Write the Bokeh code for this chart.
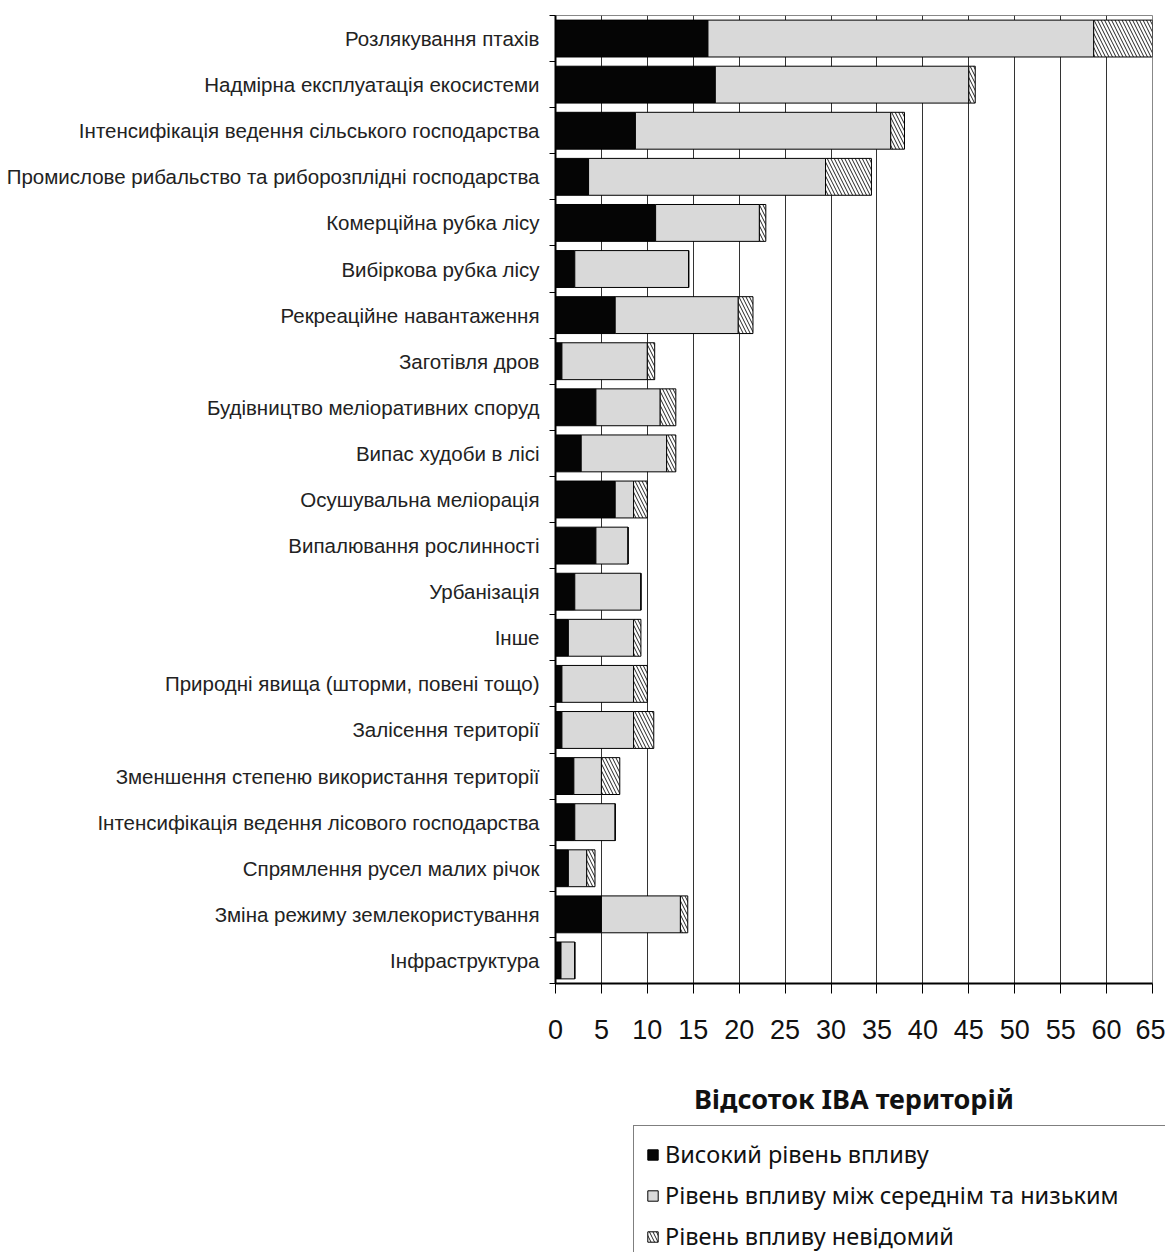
from bokeh.plotting import figure
from bokeh.layouts import column
from bokeh.models import (ColumnDataSource, Range1d, LinearAxis,
                          FixedTicker, Legend, LegendItem)
from bokeh.transform import stack
from bokeh.embed import file_html
from bokeh.resources import INLINE

categories = [
    "Розлякування птахів",
    "Надмірна експлуатація екосистеми",
    "Інтенсифікація ведення сільського господарства",
    "Промислове рибальство та риборозплідні господарства",
    "Комерційна рубка лісу",
    "Вибіркова рубка лісу",
    "Рекреаційне навантаження",
    "Заготівля дров",
    "Будівництво меліоративних споруд",
    "Випас худоби в лісі",
    "Осушувальна меліорація",
    "Випалювання рослинності",
    "Урбанізація",
    "Інше",
    "Природні явища (шторми, повені тощо)",
    "Залісення території",
    "Зменшення степеню використання території",
    "Інтенсифікація ведення лісового господарства",
    "Спрямлення русел малих річок",
    "Зміна режиму землекористування",
    "Інфраструктура",
]
high = [16.6, 17.4, 8.7, 3.6, 10.9, 2.1, 6.5, 0.7, 4.4, 2.8, 6.5,
        4.4, 2.1, 1.4, 0.7, 0.7, 2.0, 2.1, 1.4, 5.0, 0.6]
mid = [42.0, 27.6, 27.8, 25.8, 11.3, 12.4, 13.4, 9.3, 7.0, 9.3, 2.0,
       3.5, 7.2, 7.1, 7.8, 7.8, 3.0, 4.4, 2.0, 8.6, 1.5]
unknown = [6.5, 0.7, 1.5, 5.0, 0.7, 0.0, 1.6, 0.8, 1.7, 1.0, 1.5,
           0.0, 0.0, 0.8, 1.5, 2.2, 2.0, 0.0, 0.9, 0.8, 0.0]
x_ticks = [0, 5, 10, 15, 20, 25, 30, 35, 40, 45, 50, 55, 60, 65]
x_title = "Відсоток IBA територій"
series_labels = ["Високий рівень впливу",
                 "Рівень впливу між середнім та низьким",
                 "Рівень впливу невідомий"]

n = len(categories)
# row centres: first category on top
rows = [n - i - 0.5 for i in range(n)]
source = ColumnDataSource(dict(row=rows, cat=categories, high=high, mid=mid, unk=unknown))

black_style = dict(fill_color="#050505", line_color="black", line_width=1)
gray_style = dict(fill_color="#d9d9d9", line_color="black", line_width=1)
hatch_style = dict(fill_color="white", hatch_pattern="\\", hatch_color="#222222",
                   hatch_scale=7, hatch_weight=1, line_color="black", line_width=1)

p = figure(width=1165, height=1125,
           y_range=Range1d(0, n), x_range=Range1d(0, 65),
           output_backend="svg", toolbar_location=None,
           y_axis_location=None,
           min_border_left=555, min_border_right=13,
           min_border_top=15, min_border_bottom=142)
p.frame_align = False

# left tick axis (ticks at category boundaries, no labels)
tick_axis = LinearAxis(ticker=FixedTicker(ticks=list(range(n + 1))),
                       major_label_overrides={i: "" for i in range(n + 1)},
                       major_label_text_color=None, major_label_standoff=0,
                       major_tick_out=6, major_tick_in=0,
                       minor_tick_line_color=None,
                       axis_line_color="black", axis_line_width=2,
                       major_tick_line_color="black")
p.add_layout(tick_axis, "left")
cat_axis = LinearAxis(ticker=FixedTicker(ticks=rows),
                      major_label_overrides={r: c for r, c in zip(rows, categories)},
                      major_tick_line_color=None, minor_tick_line_color=None,
                      axis_line_color=None,
                      major_label_text_font="Liberation Sans",
                      major_label_text_font_size="20.5px",
                      major_label_text_color="#222222",
                      major_label_standoff=4)
p.add_layout(cat_axis, "left")

common = dict(y="row", height=0.8, source=source)
p.hbar(left=0, right="high", **black_style, **common)
p.hbar(left=stack("high"), right=stack("high", "mid"), **gray_style, **common)
p.hbar(left=stack("high", "mid"), right=stack("high", "mid", "unk"),
       **hatch_style, **common)

xa = p.xaxis[0]
xa.ticker = FixedTicker(ticks=x_ticks)
xa.major_label_text_font = "Liberation Sans"
xa.major_label_text_font_size = "27px"
xa.major_label_text_color = "#111111"
xa.major_label_standoff = 26
xa.major_tick_out = 10
xa.major_tick_in = 0
xa.minor_tick_line_color = None
xa.axis_line_color = "black"
xa.axis_line_width = 2
xa.axis_label = x_title
xa.axis_label_text_font = "Noto Sans"
xa.axis_label_text_font_style = "bold"
xa.axis_label_text_font_size = "27px"
xa.axis_label_text_color = "#111111"
xa.axis_label_standoff = 38

p.xgrid.ticker = FixedTicker(ticks=x_ticks)
p.xgrid.grid_line_color = "#333333"
p.xgrid.grid_line_width = 1
p.ygrid.visible = False
p.outline_line_color = "#888888"
p.background_fill_color = "white"
p.border_fill_color = "white"

# legend panel below the chart; its frame starts where the legend box starts
lg = figure(width=1165, height=127, x_range=Range1d(0, 1), y_range=Range1d(0, 1),
            output_backend="svg", toolbar_location=None,
            x_axis_location=None, y_axis_location=None,
            min_border_left=633, min_border_right=0,
            min_border_top=0, min_border_bottom=0)
lg.frame_align = False
lg.outline_line_color = None
lg.xgrid.visible = False
lg.ygrid.visible = False
lg.background_fill_color = "white"
lg.border_fill_color = "white"
# one off-range placeholder row so that the legend swatches get their styles
dummy = ColumnDataSource(dict(y=[-5], left=[-5], right=[-5]))
l1 = lg.hbar(y="y", left="left", right="right", height=1, source=dummy, **black_style)
l2 = lg.hbar(y="y", left="left", right="right", height=1, source=dummy, **gray_style)
l3 = lg.hbar(y="y", left="left", right="right", height=1, source=dummy, **hatch_style)

legend = Legend(items=[LegendItem(label=series_labels[0], renderers=[l1]),
                       LegendItem(label=series_labels[1], renderers=[l2]),
                       LegendItem(label=series_labels[2], renderers=[l3])],
                location="top_left", orientation="vertical",
                label_text_font="Noto Sans", label_text_font_size="23.5px",
                label_text_color="#111111",
                glyph_width=13, glyph_height=13, label_standoff=6,
                label_width=490, label_height=28,
                spacing=9, padding=12, margin=0,
                border_line_color="black", border_line_width=1,
                background_fill_color="white", background_fill_alpha=1)
lg.add_layout(legend)

open("out.html", "w").write(file_html(column(p, lg, spacing=0), INLINE))
